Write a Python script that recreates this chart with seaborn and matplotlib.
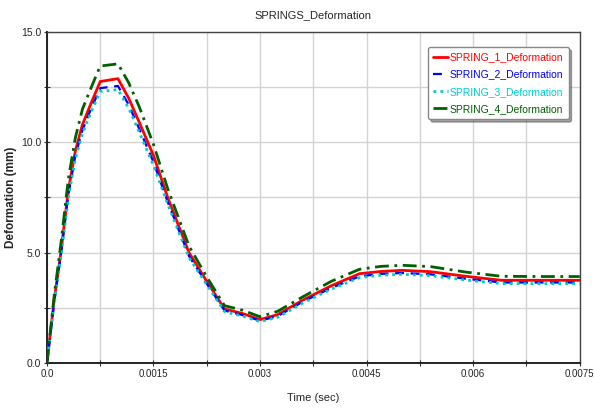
import matplotlib
matplotlib.use("Agg")
import matplotlib.pyplot as plt
import seaborn as sns
import numpy as np
import pandas as pd
from matplotlib.ticker import FixedLocator

time_s = [0, 0.0001, 0.0002, 0.0003, 0.0004, 0.0005, 0.0006, 0.00075, 0.001,
          0.00115, 0.0013, 0.0015, 0.0017, 0.002, 0.00225, 0.0025, 0.00275,
          0.003, 0.00325, 0.0036, 0.004, 0.0044, 0.0047, 0.005, 0.0054,
          0.0059, 0.0064, 0.007, 0.0075]

spring_1 = [0, 2.8, 5.1, 7.8, 9.6, 10.8, 11.6, 12.75, 12.88, 12.0, 10.9, 9.4,
            7.5, 5.0, 3.7, 2.45, 2.25, 1.97, 2.2, 2.85, 3.5, 4.05, 4.15, 4.2,
            4.14, 3.93, 3.75, 3.75, 3.75]
spring_2 = [0, 2.7, 5.0, 7.6, 9.4, 10.55, 11.35, 12.45, 12.55, 11.7, 10.6, 9.1,
            7.3, 4.85, 3.6, 2.38, 2.18, 1.92, 2.13, 2.78, 3.4, 3.93, 4.04, 4.08,
            4.02, 3.82, 3.65, 3.65, 3.65]
spring_3 = [0, 2.65, 4.9, 7.45, 9.25, 10.4, 11.2, 12.3, 12.38, 11.55, 10.45, 8.95,
            7.2, 4.78, 3.55, 2.33, 2.13, 1.88, 2.08, 2.72, 3.35, 3.87, 3.98, 4.02,
            3.96, 3.76, 3.6, 3.6, 3.6]
spring_4 = [0, 3.0, 5.5, 8.3, 10.2, 11.5, 12.3, 13.45, 13.55, 12.7, 11.6, 9.9,
            7.9, 5.3, 3.9, 2.6, 2.4, 2.1, 2.35, 3.0, 3.7, 4.25, 4.38, 4.43,
            4.37, 4.12, 3.93, 3.92, 3.92]

series_names = ["SPRING_1_Deformation", "SPRING_2_Deformation",
                "SPRING_3_Deformation", "SPRING_4_Deformation"]
x_ticks = [0, 0.0015, 0.003, 0.0045, 0.006, 0.0075]
x_tick_labels = ["0.0", "0.0015", "0.003", "0.0045", "0.006", "0.0075"]
y_ticks = [0, 5, 10, 15]
y_tick_labels = ["0.0", "5.0", "10.0", "15.0"]

sns.set_theme(style="white")
plt.rcParams['font.family'] = ['Liberation Sans Narrow', 'Liberation Sans', 'DejaVu Sans']

fig = plt.figure(figsize=(5.94, 4.08), dpi=100)
ax = fig.add_axes([0.079, 0.110, 0.897, 0.812])

styles = [
    dict(color="#ff0000", linestyle="-", linewidth=2.0),
    dict(color="#0000ff", linestyle=(0, (4, 3)), linewidth=1.6),
    dict(color="#00cccc", linestyle=(0, (1, 1.5)), linewidth=2.0),
    dict(color="#006000", linestyle=(0, (5, 2, 1, 2)), linewidth=2.0),
]
data = [spring_1, spring_2, spring_3, spring_4]
for name, vals, st in zip(series_names, data, styles):
    df = pd.DataFrame({"t": time_s, "d": vals})
    sns.lineplot(data=df, x="t", y="d", ax=ax, label=name, sort=False,
                 estimator=None, zorder=3, **st)

ax.set_xlim(0, 0.0075)
ax.set_ylim(0, 15)
ax.xaxis.set_major_locator(FixedLocator(x_ticks))
ax.xaxis.set_minor_locator(FixedLocator([0.00075, 0.00225, 0.00375, 0.00525, 0.00675]))
ax.set_xticklabels(x_tick_labels)
ax.yaxis.set_major_locator(FixedLocator(y_ticks))
ax.yaxis.set_minor_locator(FixedLocator([2.5, 7.5, 12.5]))
ax.set_yticklabels(y_tick_labels)

ax.grid(True, which="both", color="#d4d4d4", linewidth=1.0, zorder=0)
ax.tick_params(axis="both", which="both", direction="inout", length=4,
               width=0.8, color="#333333", labelsize=7.5, pad=2,
               bottom=True, left=True)
ax.tick_params(axis="x", which="major", labelsize=7)
for side in ["left", "bottom"]:
    ax.spines[side].set_color("#222222")
    ax.spines[side].set_linewidth(1.4)
for side in ["top", "right"]:
    ax.spines[side].set_color("#444444")
    ax.spines[side].set_linewidth(1.0)

ax.set_title("SPRINGS_Deformation", fontsize=8, pad=10)
ax.set_xlabel("Time (sec)", fontsize=8, labelpad=10)
ax.set_ylabel("Deformation (mm)", fontsize=8.5, fontweight="bold")
ax.yaxis.set_label_coords(-0.056, 0.5)

leg = ax.legend(loc="upper right", bbox_to_anchor=(0.989, 0.97), fontsize=7.5,
                handlelength=1.4, handletextpad=0.2, borderpad=0.5,
                labelspacing=0.7, frameon=True, fancybox=True, shadow=True,
                framealpha=1.0, edgecolor="#888888")
for text, st in zip(leg.get_texts(), styles):
    text.set_color(st["color"])

fig.savefig("out.png", dpi=100)
